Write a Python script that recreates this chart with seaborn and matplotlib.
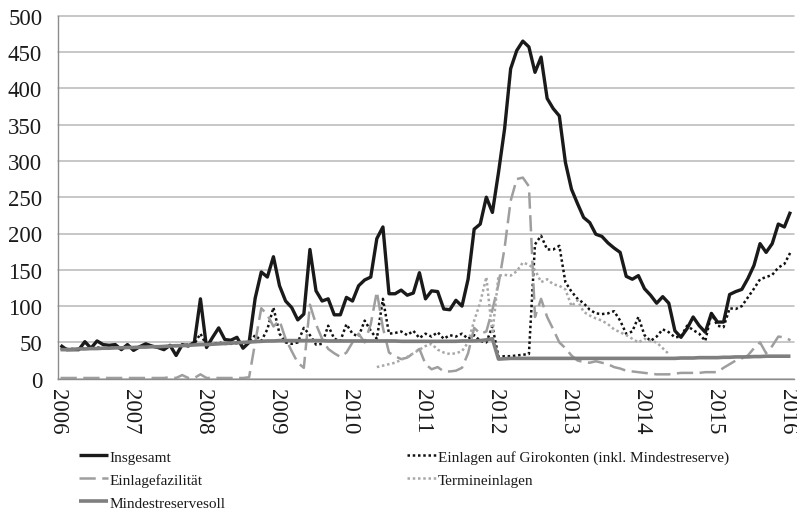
import numpy as np
import pandas as pd
import matplotlib
matplotlib.use("Agg")
import matplotlib.pyplot as plt
import seaborn as sns

# ---------------- data (monthly, Jan 2006 .. Jan 2016) ----------------
year_labels = [str(y) for y in range(2006, 2017)]

insgesamt = [46, 40, 40, 40, 51, 42, 52, 47, 46, 47,
             40, 47, 39, 44, 48, 45, 43, 40, 46, 32,
             47, 45, 50, 110, 43, 57, 70, 54, 53, 57,
             42, 50, 111, 147, 140, 168, 128, 107, 98, 81,
             89, 178, 121, 107, 110, 88, 88, 112, 107, 128,
             136, 140, 193, 209, 117, 117, 122, 115, 118, 146,
             110, 121, 120, 96, 95, 108, 100, 137, 206, 213,
             250, 229, 284, 344, 427, 452, 465, 457, 422, 443,
             386, 372, 362, 298, 261, 241, 222, 215, 199, 196,
             187, 180, 174, 141, 137, 142, 124, 115, 104, 113,
             104, 66, 57, 69, 85, 73, 64, 90, 78, 78,
             116, 120, 123, 138, 156, 186, 174, 186, 213, 209, 230]

girokonten = [41, 41, 41, 41, 42, 42, 43, 42, 43, 43,
              42, 44, 43, 44, 45, 44, 45, 44, 46, 45,
              46, 47, 48, 62, 46, 47, 50, 48, 48, 49,
              48, 50, 60, 52, 68, 98, 62, 50, 48, 50,
              70, 60, 47, 48, 73, 55, 52, 75, 62, 58,
              80, 66, 55, 110, 62, 63, 65, 60, 66, 56,
              62, 58, 64, 55, 60, 58, 62, 55, 60, 52,
              50, 72, 30, 31, 31, 32, 33, 34, 185, 197,
              178, 178, 183, 133, 120, 110, 104, 95, 90, 89,
              90, 93, 80, 62, 65, 85, 60, 52, 58, 68,
              64, 57, 58, 73, 67, 62, 52, 90, 73, 71,
              97, 96, 100, 112, 124, 137, 140, 143, 153, 158, 174]

einlagefazilitaet = [1, 1, 1, 1, 1, 1, 1, 1, 1, 1,
                     1, 1, 1, 1, 1, 1, 1, 1, 2, 1,
                     5, 1, 1, 6, 1, 1, 1, 1, 1, 1,
                     1, 2, 50, 97, 88, 72, 80, 55, 38, 22,
                     15, 102, 75, 55, 41, 35, 30, 36, 50, 62,
                     50, 75, 120, 70, 36, 31, 27, 29, 35, 41,
                     20, 13, 16, 10, 10, 11, 15, 35, 70, 62,
                     65, 95, 130, 180, 245, 275, 277, 265, 85, 110,
                     85, 68, 50, 42, 32, 25, 23, 22, 24, 22,
                     20, 16, 14, 11, 10, 9, 8, 7, 6, 6,
                     6, 7, 8, 8, 8, 8, 9, 9, 9, 15,
                     20, 25, 28, 32, 42, 50, 35, 45, 58, 57, 53]

termineinlagen = [np.nan] * 52 + [
    16, 18, 20, 22, 26, 30, 35, 40,
    45, 48, 40, 36, 34, 35, 38, 50, 80, 105,
    140, 62, 142, 143, 142, 148, 160, 157, 150, 133,
    137, 130, 128, 123, 100, 108, 92, 87, 83, 80,
    75, 68, 64, 60, 55, 50, 55, 52, 50, 42,
    34] + [np.nan] * 20

mindestreserve = [40, 40, 40.5, 41, 41, 41.5, 41.5, 42, 42, 42.5,
                  42.5, 43, 43, 43.5, 43.5, 44, 44, 44.5, 45, 45.5,
                  45.5, 46, 46.5, 47, 47, 47.5, 48, 48.5, 49, 49.5,
                  50, 50.5, 51, 51.5, 52, 52, 52.5, 52.5, 52.5, 52.5,
                  52.5, 52.5, 52.5, 52.5, 52, 52, 52, 52, 52, 52,
                  52, 52, 52, 52, 52, 52, 51.5, 51.5, 51.5, 51.5,
                  51.5, 51.5, 51.5, 51.5, 51.5, 51.5, 52, 52, 52, 52.5,
                  53.5, 55, 27, 27.5, 28, 28, 28, 28, 28, 28,
                  28, 28, 28, 28, 28, 28, 28, 28, 28, 28,
                  28, 28, 28, 28, 28, 28, 28, 28, 28, 28,
                  28, 28, 28.5, 28.5, 28.5, 29, 29, 29, 29, 29.5,
                  29.5, 30, 30, 30, 30.5, 30.5, 31, 31, 31, 31, 31]

names = ["Insgesamt",
         "Einlagen auf Girokonten (inkl. Mindestreserve)",
         "Einlagefazilität",
         "Termineinlagen",
         "Mindestreservesoll"]

n = len(insgesamt)
df = pd.DataFrame({
    "pos": np.arange(n) + 0.5,
    names[0]: insgesamt,
    names[1]: girokonten,
    names[2]: einlagefazilitaet,
    names[3]: termineinlagen,
    names[4]: mindestreserve,
})

# ---------------- styling ----------------
sns.set_style("white")
plt.rcParams["font.family"] = ["Liberation Serif", "DejaVu Serif"]
plt.rcParams["text.color"] = "#1a1a1a"

fig = plt.figure(figsize=(7.97, 5.10), dpi=100)
ax = fig.add_axes([57.5 / 797, 1 - 379.7 / 510, (793.5 - 57.5) / 797, (379.7 - 16.7) / 510])

styles = {
    names[0]: dict(color="#1a1a1a", lw=2.4, linestyle="-"),
    names[1]: dict(color="#111111", lw=1.8, linestyle=(0, (1, 1.1))),
    names[2]: dict(color="#9e9e9e", lw=1.8, linestyle=(0, (6.5, 2.6))),
    names[3]: dict(color="#a8a8a8", lw=1.8, linestyle=(0, (1, 1.1))),
    names[4]: dict(color="#7f7f7f", lw=2.6, linestyle="-"),
}

lines = {}
for nm in names:
    sns.lineplot(data=df, x="pos", y=nm, ax=ax, label=nm, legend=False,
                 solid_capstyle="butt", **styles[nm])
    lines[nm] = ax.lines[-1]

ax.set_xlim(0, 121)
ax.set_ylim(0, 500)
ax.set_xlabel("")
ax.set_ylabel("")

ax.set_xticks(np.arange(0, 121, 12))
ax.set_xticklabels(year_labels)
ax.set_xticks(np.arange(0, 122, 1), minor=True)
ax.set_yticks(np.arange(0, 501, 50))

axis_col = "#8c8c8c"
ax.tick_params(axis="x", which="major", length=5.5, width=1.0, color=axis_col,
               direction="out", pad=1.5, labelsize=16.5, labelcolor="#1a1a1a")
ax.tick_params(axis="x", which="minor", length=3.5, width=0.8, color=axis_col,
               direction="out")
ax.tick_params(axis="y", which="major", length=5, width=1.0, color=axis_col,
               direction="out", pad=6, labelsize=16.5, labelcolor="#1a1a1a")
for lab in ax.get_xticklabels():
    lab.set_rotation(-90)
    lab.set_ha("center")
    lab.set_va("top")

ax.yaxis.grid(True, color="#b8b8b8", lw=1.1)
ax.xaxis.grid(False)
ax.set_axisbelow(True)
for gl in ax.get_ygridlines():
    gl.set_clip_on(False)

for side in ["top", "right"]:
    ax.spines[side].set_visible(False)
for side in ["left", "bottom"]:
    ax.spines[side].set_color(axis_col)
    ax.spines[side].set_linewidth(1.0)

leg_kw = dict(loc="upper left", frameon=False, fontsize=11, handlelength=1.9,
              handletextpad=0.1, labelspacing=0.6, borderpad=0, borderaxespad=0)
fig.legend([lines[names[0]], lines[names[2]], lines[names[4]]],
           [names[0], names[2], names[4]],
           bbox_to_anchor=(79 / 797, 1 - 451 / 510), **leg_kw)
fig.legend([lines[names[1]], lines[names[3]]],
           [names[1], names[3]],
           bbox_to_anchor=(407 / 797, 1 - 451 / 510), **leg_kw)

fig.savefig("out.png", dpi=100)
